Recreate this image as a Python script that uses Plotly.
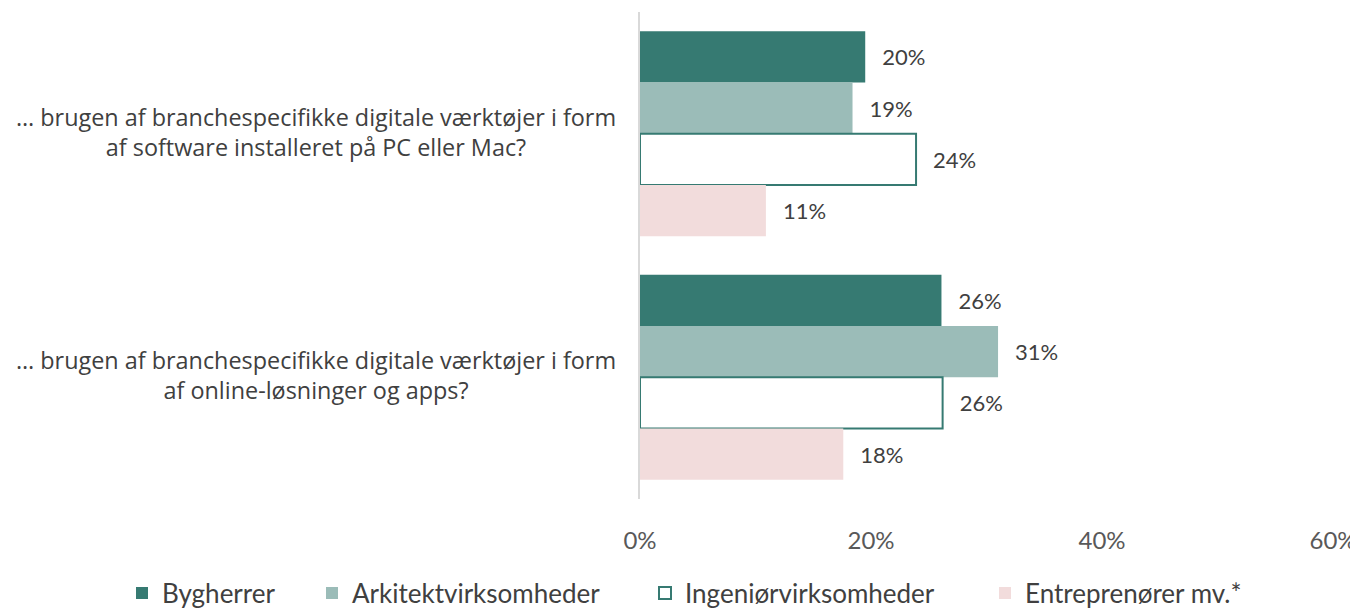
import plotly.graph_objects as go

# spørgsmål (kategorier)
categories = [
    "… brugen af branchespecifikke digitale værktøjer i form<br>af software installeret på PC eller Mac?",
    "… brugen af branchespecifikke digitale værktøjer i form<br>af online-løsninger og apps?",
]
cat_keys = ["pc", "online"]

series_names = ["Bygherrer", "Arkitektvirksomheder", "Ingeniørvirksomheder", "Entreprenører mv.*"]
bygherrer = [19.5, 26.1]
arkitekt = [18.4, 31.0]
ingenior = [23.9, 26.2]
entrepr = [10.9, 17.6]
labels = [["20%", "26%"], ["19%", "31%"], ["24%", "26%"], ["11%", "18%"]]

tick_vals = [0, 20, 40, 60]
tick_text = ["0%", "20%", "40%", "60%"]

# siden har 8 px body-margin, så figuren gøres tilsvarende mindre
OFF = 8
W, H = 1358 - OFF, 609 - OFF

fills = ["#367A72", "#9BBCB8", "#FFFFFF", "#F2DCDC"]
borders = ["#367A72", "#9BBCB8", "#367A72", "#F2DCDC"]
border_w = [0, 0, 2, 0]
legend_ids = ["legend", "legend2", "legend3", "legend4"]
legend_x = [122, 312, 645, 985]  # px i skærmbilledet, venstre kant af hver legendepost
FONT = "Lato"
GREY = "#404040"

fig = go.Figure()
for i, (name, vals, lab) in enumerate(zip(series_names, [bygherrer, arkitekt, ingenior, entrepr], labels)):
    fig.add_trace(go.Bar(
        y=cat_keys, x=vals, name=name, orientation="h", legend=legend_ids[i], showlegend=True,
        marker=dict(color=fills[i], line=dict(color=borders[i], width=border_w[i])),
        text=["\u00a0\u00a0\u2009" + t for t in lab], textposition="outside",
        textfont=dict(size=22, color=GREY, family=FONT),
        cliponaxis=False,
    ))

# kategoritekster som centrerede annotationer
for key, txt in zip(cat_keys, categories):
    fig.add_annotation(x=-0.4675, xref="paper", y=key, yref="y", text=txt, showarrow=False,
                       xanchor="center", yshift=2, align="center",
                       font=dict(size=23.4, color=GREY, family="Open Sans"))

legends = {}
for i, lid in enumerate(legend_ids):
    legends[lid] = dict(orientation="h", xref="container", yref="container",
                        x=(legend_x[i] - OFF) / W, y=1 - (593 - OFF) / H, xanchor="left", yanchor="middle",
                        font=dict(size=26, color=GREY, family=FONT), bgcolor="rgba(0,0,0,0)")

fig.update_layout(
    width=W, height=H,
    margin=dict(l=640 - OFF, r=25, t=12 - OFF, b=110, autoexpand=False),
    paper_bgcolor="white", plot_bgcolor="white",
    barmode="group", bargap=0.158, bargroupgap=0,
    font=dict(family=FONT, color=GREY),
    showlegend=True,
    **legends,
)
fig.update_xaxes(range=[0, 60], tickvals=tick_vals, ticktext=tick_text, showgrid=False,
                 zeroline=False, showline=False, ticklabelstandoff=25, ticklabeloverflow="allow",
                 tickfont=dict(size=24, color="#595959", family=FONT))
fig.update_yaxes(autorange="reversed", showticklabels=False, showline=True,
                 linecolor="#D9D9D9", linewidth=2, showgrid=False)

fig.write_html("out.html")
